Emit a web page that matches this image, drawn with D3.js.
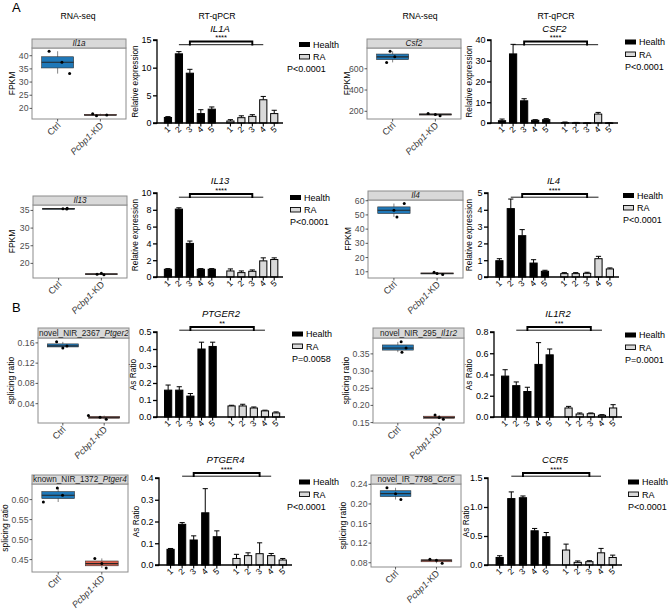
<!DOCTYPE html>
<html><head><meta charset="utf-8">
<script src="https://cdn.jsdelivr.net/npm/d3@7"></script>
<style>
body{margin:0;background:#fff}
svg{display:block}
text{font-family:"Liberation Sans",Arial,Helvetica,sans-serif}
</style>
</head><body>
<svg id="chart" width="669" height="609"></svg>
<script>
// ---------------- DATA ----------------
const boxGroups = ["Ctrl", "Pcbp1-KD"];
const barGroups = ["Health", "RA"];
const barCategories = ["1", "2", "3", "4", "5"];

// RNA-seq / splicing box plots (three replicates per group)
const il1aCtrl = [33.2, 37.5, 41.7], il1aKD = [17.2, 17.5, 18.0];
const csf2Ctrl = [660, 712, 765], csf2KD = [158, 171, 180];
const il13Ctrl = [35.4, 35.5, 35.6], il13KD = [16.8, 16.95, 17.2];
const il4Ctrl = [48.6, 53.3, 58.0], il4KD = [8.1, 8.8, 9.6];
const ptger2Ctrl = [0.150, 0.154, 0.162], ptger2KD = [0.0095, 0.013, 0.0165];
const il1r2Ctrl = [0.355, 0.367, 0.385], il1r2KD = [0.160, 0.165, 0.172];
const ptger4Ctrl = [0.594, 0.611, 0.629], ptger4KD = [0.429, 0.440, 0.453];
const ccr5Ctrl = [0.209, 0.221, 0.233], ccr5KD = [0.079, 0.085, 0.087];
// jitter of replicate points (category units)
const il1aJit = [[0.28, 0.1, -0.2], [-0.09, 0.15, -0.18]];
const csf2Jit = [[-0.14, 0.05, -0.06], [0.11, 0.0, -0.17]];
const il13Jit = [[0.19, 0.1, 0.2], [0.06, -0.1, 0.0]];
const il4Jit = [[0.07, 0.0, 0.24], [0.13, 0.0, -0.07]];
const ptger2Jit = [[0.0, 0.1, -0.15], [0.05, -0.1, -0.38]];
const il1r2Jit = [[0.1, 0.2, 0.08], [0.1, 0.0, -0.1]];
const ptger4Jit = [[-0.34, 0.1, -0.02], [0.1, 0.0, -0.16]];
const ccr5Jit = [[0.13, 0.0, -0.21], [0.14, 0.0, -0.16]];

// box plot y tick labels
const il1aTicks = [20, 25, 30, 35, 40];
const csf2Ticks = [200, 400, 600];
const il13Ticks = [20, 25, 30, 35];
const il4Ticks = [10, 20, 30, 40, 50, 60];
const ptger2Ticks = [0.04, 0.08, 0.12, 0.16];
const il1r2Ticks = [0.15, 0.20, 0.25, 0.30, 0.35];
const ptger4Ticks = [0.45, 0.50, 0.55, 0.60];
const ccr5Ticks = [0.08, 0.12, 0.16, 0.20, 0.24];

// RT-qPCR / AS ratio bar charts (mean and upper error)
const IL1A_health = [1.0, 12.5, 9.0, 1.7, 2.5], IL1A_healthErr = [0.15, 0.4, 0.7, 0.7, 0.4];
const IL1A_ra = [0.36, 0.96, 1.2, 4.2, 1.7], IL1A_raErr = [0.24, 0.34, 0.3, 0.6, 0.6];
const CSF2_health = [1.1, 33.3, 10.7, 1.3, 1.6], CSF2_healthErr = [0.8, 4.6, 1.0, 0.3, 0.5];
const CSF2_ra = [0.16, 0.08, 0.03, 4.3, 0.05], CSF2_raErr = [0.3, 0.2, 0.05, 0.8, 0.05];
const IL13_health = [0.92, 8.08, 4.0, 0.92, 0.92], IL13_healthErr = [0.08, 0.16, 0.28, 0.08, 0.08];
const IL13_ra = [0.72, 0.52, 0.68, 1.92, 2.08], IL13_raErr = [0.24, 0.2, 0.16, 0.36, 0.2];
const IL4_health = [0.97, 4.07, 2.46, 0.83, 0.34], IL4_healthErr = [0.12, 0.57, 0.36, 0.2, 0.06];
const IL4_ra = [0.2, 0.2, 0.22, 1.09, 0.48], IL4_raErr = [0.06, 0.06, 0.06, 0.14, 0.06];
const PTGER2_health = [0.158, 0.158, 0.123, 0.40, 0.415], PTGER2_healthErr = [0.03, 0.02, 0.015, 0.04, 0.025];
const PTGER2_ra = [0.065, 0.065, 0.053, 0.036, 0.024], PTGER2_raErr = [0.004, 0.01, 0.006, 0.004, 0.006];
const IL1R2_health = [0.385, 0.295, 0.24, 0.495, 0.585], IL1R2_healthErr = [0.06, 0.035, 0.04, 0.205, 0.055];
const IL1R2_ra = [0.085, 0.028, 0.031, 0.016, 0.085], IL1R2_raErr = [0.015, 0.01, 0.007, 0.006, 0.031];
const PTGER4_health = [0.072, 0.187, 0.115, 0.24, 0.13], PTGER4_healthErr = [0.004, 0.008, 0.019, 0.111, 0.027];
const PTGER4_ra = [0.030, 0.043, 0.052, 0.043, 0.023], PTGER4_raErr = [0.019, 0.013, 0.05, 0.01, 0.007];
const CCR5_health = [0.13, 1.145, 1.16, 0.59, 0.487], CCR5_healthErr = [0.03, 0.115, 0.03, 0.04, 0.073];
const CCR5_ra = [0.258, 0.046, 0.057, 0.21, 0.13], CCR5_raErr = [0.102, 0.024, 0.017, 0.076, 0.04];

// bar chart y tick labels
const IL1A_ticks = [0, 5, 10, 15];
const CSF2_ticks = [0, 10, 20, 30, 40];
const IL13_ticks = [0, 2, 4, 6, 8, 10];
const IL4_ticks = [0, 1, 2, 3, 4, 5];
const PTGER2_ticks = [0.0, 0.1, 0.2, 0.3, 0.4, 0.5];
const IL1R2_ticks = [0.0, 0.2, 0.4, 0.6, 0.8];
const PTGER4_ticks = [0.0, 0.1, 0.2, 0.3, 0.4];
const CCR5_ticks = [0.0, 0.5, 1.0, 1.5];

// ---------------- STYLE / LAYOUT ----------------
const svg = d3.select("#chart");
const FONT = '"Liberation Sans",Arial,Helvetica,sans-serif';
const ctrlFill = "#1f78b8", kdFill = "#e0604c";
const raFill = "#d9d9d9";

function txt(g, x, y, s, size, opts = {}) {
  const t = g.append("text").attr("x", x).attr("y", y).attr("font-size", size)
    .attr("fill", opts.fill || "#000").attr("text-anchor", opts.anchor || "start");
  if (opts.italic) t.attr("font-style", "italic");
  if (opts.transform) t.attr("transform", opts.transform);
  t.text(s);
  return t;
}

// ---------- box plot panel ----------
function drawBox(p) {
  const g = svg.append("g");
  const allVals = p.ctrl.concat(p.kd);
  const ext = d3.extent(allVals), pad = (ext[1] - ext[0]) * 0.05;
  const y = d3.scaleLinear().domain([ext[0] - pad, ext[1] + pad]).range([p.y1, p.ys]);
  const x = d3.scaleLinear().domain([0.4, 2.6]).range([p.x0, p.x1]);
  const bw = x(1.375) - x(1);

  g.append("rect").attr("x", p.x0).attr("y", p.ys).attr("width", p.x1 - p.x0).attr("height", p.y1 - p.ys)
    .attr("fill", "#fff").attr("stroke", "#8c8c8c").attr("stroke-width", 1);
  g.append("rect").attr("x", p.x0).attr("y", p.y0).attr("width", p.x1 - p.x0).attr("height", p.ys - p.y0)
    .attr("fill", "#d9d9d9").attr("stroke", "#8c8c8c").attr("stroke-width", 1);
  const clipId = "clip" + Math.round(p.x0) + "_" + Math.round(p.y0);
  g.append("clipPath").attr("id", clipId).append("rect")
    .attr("x", p.x0 + 0.5).attr("y", p.y0).attr("width", p.x1 - p.x0 - 1).attr("height", p.ys - p.y0);
  const st = g.append("text").attr("clip-path", `url(#${clipId})`)
    .attr("x", (p.x0 + p.x1) / 2).attr("y", p.ys - 1.8)
    .attr("font-size", 8.2).attr("text-anchor", "middle").attr("fill", "#1a1a1a");
  st.append("tspan").text(p.stripPre);
  st.append("tspan").attr("font-style", "italic").text(p.stripGene);
  const tw = st.node().getComputedTextLength();
  if (tw > p.x1 - p.x0 - 2) st.attr("text-anchor", "start").attr("x", p.x0 + 1);

  [p.ctrl, p.kd].forEach((vals, gi) => {
    const s = vals.slice().sort(d3.ascending);
    const q1 = d3.quantile(s, 0.25), med = d3.quantile(s, 0.5), q3 = d3.quantile(s, 0.75);
    const cx = x(gi + 1);
    const fill = gi === 0 ? ctrlFill : kdFill;
    g.append("line").attr("x1", cx).attr("x2", cx).attr("y1", y(s[0])).attr("y2", y(s[2]))
      .attr("stroke", "#333").attr("stroke-width", 0.6);
    g.append("rect").attr("x", cx - bw).attr("width", 2 * bw)
      .attr("y", y(q3)).attr("height", Math.max(0.8, y(q1) - y(q3)))
      .attr("fill", fill).attr("stroke", "#333").attr("stroke-width", 0.6);
    g.append("line").attr("x1", cx - bw).attr("x2", cx + bw).attr("y1", y(med)).attr("y2", y(med))
      .attr("stroke", "#262626").attr("stroke-width", 1.1);
    vals.forEach((v, i) => {
      g.append("circle").attr("cx", x(gi + 1 + p.jit[gi][i])).attr("cy", y(v)).attr("r", 1.5).attr("fill", "#000");
    });
  });

  p.ticks.forEach(t => {
    g.append("line").attr("x1", p.x0 - 2.5).attr("x2", p.x0).attr("y1", y(t)).attr("y2", y(t))
      .attr("stroke", "#333").attr("stroke-width", 0.8);
    txt(g, p.x0 - 3.5, y(t) + 3, p.fmt(t), 8.7, { anchor: "end", fill: "#4d4d4d" });
  });
  txt(g, 0, 0, p.ytitle, 8.5, { anchor: "middle", transform: `translate(${p.ytx},${(p.ys + p.y1) / 2}) rotate(-90)` });
  [1, 2].forEach((c, gi) => {
    g.append("line").attr("x1", x(c)).attr("x2", x(c)).attr("y1", p.y1).attr("y2", p.y1 + 2.5)
      .attr("stroke", "#333").attr("stroke-width", 0.8);
    const t = g.append("text").attr("font-size", 9.2).attr("text-anchor", "end").attr("fill", "#3a3a3a")
      .attr("transform", `translate(${x(c) + 3.5},${p.y1 + 7}) rotate(-45)`);
    if (gi === 0) t.text(boxGroups[0]);
    else {
      t.append("tspan").attr("font-style", "italic").text("Pcbp1");
      t.append("tspan").text("-KD");
    }
  });
}

// ---------- bar chart panel ----------
function drawBar(p) {
  const g = svg.append("g");
  const y = d3.scaleLinear().domain([0, p.ticks[p.ticks.length - 1]]).range([p.yb, p.yt]);
  const x = d3.scaleLinear().domain([-1.0, 10.5]).range([p.ax, p.rx]);
  const pos = (gi, i) => gi * 5.7 + i;
  const bw = 7.2;
  const series = [[p.h, p.he], [p.r, p.re]];
  series.forEach(([vals, errs], gi) => {
    vals.forEach((v, i) => {
      const cx = x(pos(gi, i));
      g.append("line").attr("x1", cx).attr("x2", cx).attr("y1", y(v)).attr("y2", y(v + errs[i]))
        .attr("stroke", "#000").attr("stroke-width", 1);
      g.append("line").attr("x1", cx - 2.6).attr("x2", cx + 2.6).attr("y1", y(v + errs[i])).attr("y2", y(v + errs[i]))
        .attr("stroke", "#000").attr("stroke-width", 1);
      g.append("rect").attr("x", cx - bw / 2).attr("width", bw).attr("y", y(v)).attr("height", Math.max(0.5, y(0) - y(v)))
        .attr("fill", gi === 0 ? "#000" : raFill).attr("stroke", "#000").attr("stroke-width", 1);
    });
  });
  const ya = g.append("g").attr("transform", `translate(${p.ax},0)`)
    .call(d3.axisLeft(y).tickValues(p.ticks).tickFormat(p.fmt).tickSize(4).tickPadding(1.5));
  ya.select(".domain").attr("stroke-width", 1.3).attr("d", `M-4,${y(0)}H0V${p.yt}H-4`);
  ya.selectAll(".tick line").attr("stroke-width", 1.3);
  ya.selectAll(".tick text").attr("font-size", 9).attr("font-family", FONT);
  g.append("line").attr("x1", p.ax - 0.6).attr("x2", p.rx).attr("y1", y(0)).attr("y2", y(0))
    .attr("stroke", "#000").attr("stroke-width", 1.3);
  [0, 1].forEach(gi => barCategories.forEach((c, i) => {
    const cx = x(pos(gi, i));
    g.append("line").attr("x1", cx).attr("x2", cx).attr("y1", y(0)).attr("y2", y(0) + 3.5)
      .attr("stroke", "#000").attr("stroke-width", 1.1);
    txt(g, 0, 0, c, 8.5, { anchor: "end", transform: `translate(${cx + 3},${y(0) + 7}) rotate(-45)` });
  }));
  txt(g, 0, 0, p.ytitle, 8.3, { anchor: "middle", transform: `translate(${p.ytx},${(p.yt + p.yb) / 2}) rotate(-90)` });
  txt(g, (p.ax + p.rx) / 2, p.by - 10, p.title, 9.5, { anchor: "middle", italic: true });
  const by = p.by;
  g.append("line").attr("x1", x(pos(0, 1))).attr("x2", x(pos(1, 3))).attr("y1", by + 3.2).attr("y2", by + 3.2)
    .attr("stroke", "#000").attr("stroke-width", 0.9);
  g.append("path").attr("d", `M${x(pos(0, 2))},${by + 4}V${by}H${x(pos(1, 2))}V${by + 4}`)
    .attr("fill", "none").attr("stroke", "#000").attr("stroke-width", 1.9);
  txt(g, (x(pos(0, 2)) + x(pos(1, 2))) / 2, by - 1.5, p.stars, 7.5, { anchor: "middle" });
  const lx = p.lx, ly = p.ly;
  g.append("rect").attr("x", lx).attr("y", ly - 2.5).attr("width", 11).attr("height", 5).attr("fill", "#000");
  txt(g, lx + 14, ly + 3.2, barGroups[0], 9);
  g.append("rect").attr("x", lx + 0.5).attr("y", ly + 10).attr("width", 10).attr("height", 4.5)
    .attr("fill", raFill).attr("stroke", "#000").attr("stroke-width", 0.9);
  txt(g, lx + 14, ly + 15.5, barGroups[1], 9);
  txt(g, p.px, ly + 27.5, p.pval, 9);
}

// ---------------- PANELS ----------------
const f0 = d3.format("d"), f1 = d3.format(".1f"), f2 = d3.format(".2f");
const boxPanels = [
  { ctrl: il1aCtrl, kd: il1aKD, jit: il1aJit, ticks: il1aTicks, fmt: f0, stripPre: "", stripGene: "Il1a", ytitle: "FPKM",
    x0: 32, x1: 126, y0: 39, ys: 48, y1: 119, ytx: 15 },
  { ctrl: csf2Ctrl, kd: csf2KD, jit: csf2Jit, ticks: csf2Ticks, fmt: f0, stripPre: "", stripGene: "Csf2", ytitle: "FPKM",
    x0: 367, x1: 461, y0: 39, ys: 48, y1: 119, ytx: 350 },
  { ctrl: il13Ctrl, kd: il13KD, jit: il13Jit, ticks: il13Ticks, fmt: f0, stripPre: "", stripGene: "Il13", ytitle: "FPKM",
    x0: 33, x1: 127, y0: 196, ys: 205, y1: 278, ytx: 15 },
  { ctrl: il4Ctrl, kd: il4KD, jit: il4Jit, ticks: il4Ticks, fmt: f0, stripPre: "", stripGene: "Il4", ytitle: "FPKM",
    x0: 368, x1: 463, y0: 191, ys: 200, y1: 278, ytx: 351 },
  { ctrl: ptger2Ctrl, kd: ptger2KD, jit: ptger2Jit, ticks: ptger2Ticks, fmt: f2, stripPre: "novel_NIR_2367_", stripGene: "Ptger2", ytitle: "splicing ratio",
    x0: 38, x1: 129, y0: 328, ys: 338, y1: 423, ytx: 14 },
  { ctrl: il1r2Ctrl, kd: il1r2KD, jit: il1r2Jit, ticks: il1r2Ticks, fmt: f2, stripPre: "novel_NIR_295_", stripGene: "Il1r2", ytitle: "splicing ratio",
    x0: 373, x1: 464, y0: 328, ys: 338, y1: 423, ytx: 349 },
  { ctrl: ptger4Ctrl, kd: ptger4KD, jit: ptger4Jit, ticks: ptger4Ticks, fmt: f2, stripPre: "known_NIR_1372_", stripGene: "Ptger4", ytitle: "splicing ratio",
    x0: 32, x1: 128, y0: 475, ys: 484, y1: 572, ytx: 8 },
  { ctrl: ccr5Ctrl, kd: ccr5KD, jit: ccr5Jit, ticks: ccr5Ticks, fmt: f2, stripPre: "novel_IR_7798_", stripGene: "Ccr5", ytitle: "splicing ratio",
    x0: 371, x1: 461, y0: 475, ys: 484, y1: 567, ytx: 346 }
];
const barPanels = [
  { title: "IL1A", h: IL1A_health, he: IL1A_healthErr, r: IL1A_ra, re: IL1A_raErr, ticks: IL1A_ticks, fmt: f0, stars: "****", pval: "P<0.0001",
    ytitle: "Relative expression", ax: 157, rx: 283, yt: 40, yb: 123, ytx: 138, by: 41.5, lx: 299, ly: 44.5, px: 287 },
  { title: "CSF2", h: CSF2_health, he: CSF2_healthErr, r: CSF2_ra, re: CSF2_raErr, ticks: CSF2_ticks, fmt: f0, stars: "****", pval: "P<0.0001",
    ytitle: "Relative expression", ax: 491, rx: 618, yt: 40, yb: 123, ytx: 472, by: 41.5, lx: 625, ly: 42, px: 625 },
  { title: "IL13", h: IL13_health, he: IL13_healthErr, r: IL13_ra, re: IL13_raErr, ticks: IL13_ticks, fmt: f0, stars: "****", pval: "P<0.0001",
    ytitle: "Relative expression", ax: 157, rx: 283, yt: 193, yb: 277, ytx: 138, by: 194, lx: 290, ly: 197.5, px: 290 },
  { title: "IL4", h: IL4_health, he: IL4_healthErr, r: IL4_ra, re: IL4_raErr, ticks: IL4_ticks, fmt: f0, stars: "****", pval: "P<0.0001",
    ytitle: "Relative expression", ax: 488, rx: 619, yt: 193, yb: 277, ytx: 472, by: 194, lx: 623, ly: 195.5, px: 623 },
  { title: "PTGER2", h: PTGER2_health, he: PTGER2_healthErr, r: PTGER2_ra, re: PTGER2_raErr, ticks: PTGER2_ticks, fmt: f1, stars: "**", pval: "P=0.0058",
    ytitle: "As Ratio", ax: 157, rx: 285, yt: 332, yb: 417, ytx: 136, by: 327, lx: 292, ly: 334, px: 292 },
  { title: "IL1R2", h: IL1R2_health, he: IL1R2_healthErr, r: IL1R2_ra, re: IL1R2_raErr, ticks: IL1R2_ticks, fmt: f1, stars: "***", pval: "P=0.0001",
    ytitle: "As Ratio", ax: 494, rx: 622, yt: 332, yb: 417, ytx: 472, by: 327, lx: 625, ly: 335, px: 625 },
  { title: "PTGER4", h: PTGER4_health, he: PTGER4_healthErr, r: PTGER4_ra, re: PTGER4_raErr, ticks: PTGER4_ticks, fmt: f1, stars: "****", pval: "P<0.0001",
    ytitle: "As Ratio", ax: 159, rx: 292, yt: 478, yb: 565, ytx: 139, by: 473, lx: 299, ly: 482, px: 287 },
  { title: "CCR5", h: CCR5_health, he: CCR5_healthErr, r: CCR5_ra, re: CCR5_raErr, ticks: CCR5_ticks, fmt: f1, stars: "****", pval: "P<0.0001",
    ytitle: "As Ratio", ax: 488, rx: 622, yt: 478, yb: 565, ytx: 469, by: 473, lx: 628, ly: 482, px: 628 }
];

// ---------------- DRAW ----------------
boxPanels.forEach(drawBox);
barPanels.forEach(drawBar);

txt(svg, 12, 12, "A", 13);
txt(svg, 12, 312, "B", 13);
txt(svg, 78, 19, "RNA-seq", 8.7, { anchor: "middle" });
txt(svg, 217, 19, "RT-qPCR", 8.7, { anchor: "middle" });
txt(svg, 420, 19, "RNA-seq", 8.7, { anchor: "middle" });
txt(svg, 556, 19, "RT-qPCR", 8.7, { anchor: "middle" });
</script>
</body></html>
